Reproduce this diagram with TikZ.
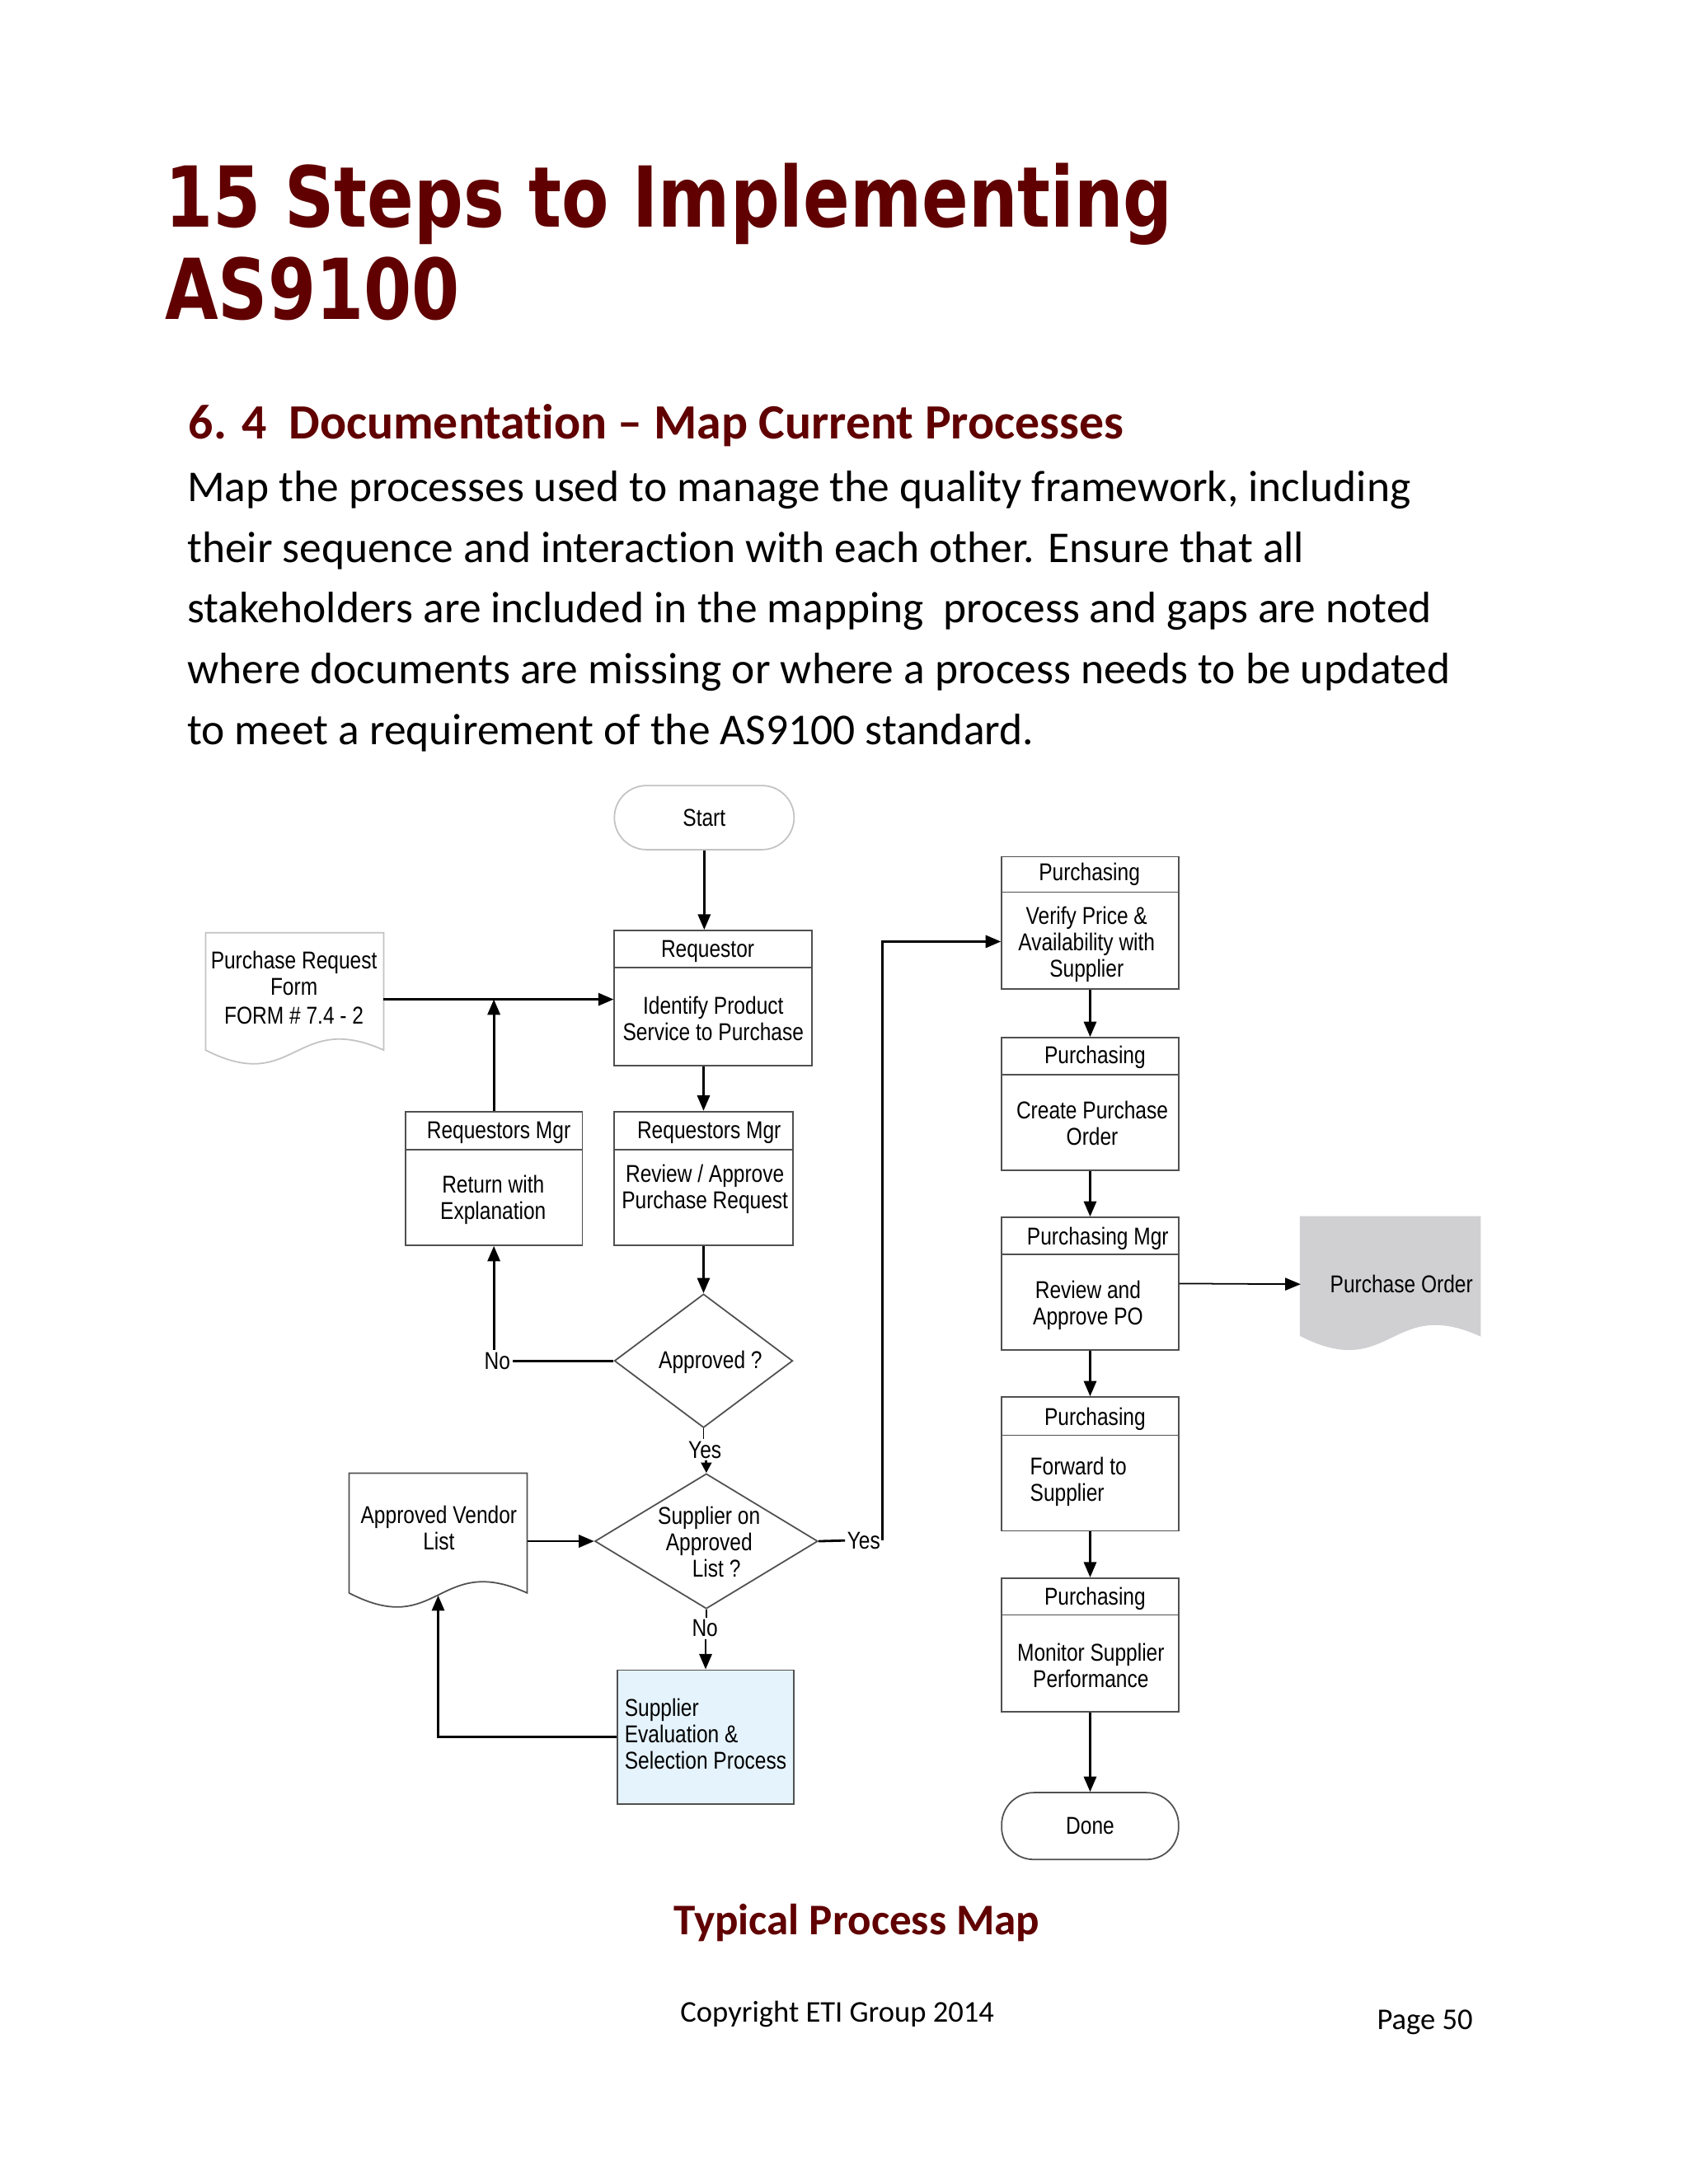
\documentclass[tikz,border=0pt]{standalone}
\usepackage{fontspec}
\setmainfont{Carlito}[Ligatures=NoCommon]
\newfontfamily\titlefont{DejaVu Sans}[FakeStretch=0.82]
\newfontfamily\fcfont{Liberation Sans}[FakeStretch=0.83]
\usetikzlibrary{arrows.meta,shapes.geometric,calc}
\newlength\upx \setlength\upx{0.016898cm}
\definecolor{titlered}{RGB}{96,0,0}
\definecolor{boxgray}{RGB}{80,80,80}
\definecolor{lightedge}{RGB}{195,195,195}
\definecolor{evalblue}{RGB}{229,243,252}
\definecolor{pogray}{RGB}{208,208,210}
\tikzset{
 fc/.style={font=\fcfont\fontsize{8.4}{9.1}\selectfont, inner sep=0pt, align=center},
 procbox/.style={draw=boxgray, line width=0.5pt, minimum width=127\upx, minimum height=95\upx, inner sep=0pt},
 term/.style={fc, draw=boxgray, line width=0.5pt, rounded corners=23\upx, minimum width=127\upx, minimum height=47\upx},
 decision/.style={diamond, draw=boxgray, line width=0.5pt, inner sep=0pt},
 docbox/.style={minimum width=127\upx, minimum height=96\upx, inner sep=0pt},
 flow/.style={line width=0.8pt, -{Triangle[length=5.3pt,width=4.3pt]}},
 shortflow/.style={line width=0.8pt, -{Triangle[length=3.6pt,width=3.6pt]}},
 plain/.style={line width=0.8pt},
 lbl/.style={fc, inner sep=0.6pt},
 para/.style={anchor=base west, inner sep=0pt, font=\fontsize{15.2}{21}\selectfont},
}
\newcommand{\docoutline}[3]{%
 \path[draw=#2, fill=#3, line width=0.5pt] let \p1=(#1.north west), \p2=(#1.south east) in
 (\x1,\y1) -- (\x2,\y1) -- (\x2,{\y1+0.88*(\y2-\y1)})
 .. controls ({0.5*(\x1+\x2)},{\y1+0.58*(\y2-\y1)}) and ({0.5*(\x1+\x2)},{\y1+1.22*(\y2-\y1)}) .. (\x1,{\y1+0.88*(\y2-\y1)}) -- cycle;}
\newcommand{\hdrline}[2]{\draw[boxgray, line width=0.5pt] ($(#1.north west)+(0,#2)$) -- ($(#1.north east)+(0,#2)$);}
\begin{document}
\begin{tikzpicture}[x=0.016898cm, y=-0.016898cm]
\fill[white] (0,0) rectangle (1212,1568);
\path[use as bounding box] (0,0) rectangle (1212,1568);

% ---------- page text ----------
\node[anchor=base west, inner sep=0pt, text=titlered, font=\titlefont\bfseries\fontsize{29}{34}\selectfont] (title1) at (118,163) {15 Steps to Implementing};
\node[anchor=base west, inner sep=0pt, text=titlered, font=\titlefont\bfseries\fontsize{29}{34}\selectfont] (title2) at (118,229) {AS9100};
\node[anchor=base west, inner sep=0pt, text=titlered, font=\bfseries\fontsize{17}{20}\selectfont] (head) at (135,315) {6. 4\ \ Documentat\kern0pt ion – Map Current Processes};
\node[para] (l1) at (134,360) {Map the processes used to manage the quality framework, including};
\node[para] (l2) at (134,403.6) {their sequence and interact\kern0pt ion with each other. Ensure that all};
\node[para] (l3) at (134,447.2) {stakeholders are included in the mapping\ \ process and gaps are noted};
\node[para] (l4) at (134,490.8) {where documents are missing or where a process needs to be updated};
\node[para] (l5) at (134,534.4) {to meet a requirement of the AS9100 standard.};
\node[anchor=base, inner sep=0pt, text=titlered, font=\bfseries\fontsize{15.1}{18}\selectfont] (cap) at (615,1389) {Typical Process Map};
\node[anchor=base west, inner sep=0pt, font=\fontsize{10.4}{12}\selectfont] (copy) at (488,1452) {Copyright ETI Group 2014};
\node[anchor=base west, inner sep=0pt, font=\fontsize{10.4}{12}\selectfont] (page) at (988,1457) {Page 50};

% ---------- left / middle column ----------
\node[term, draw=lightedge, minimum width=129\upx, minimum height=46\upx] (start) at (505.5,587) {Start};

\node[procbox, minimum width=142\upx, minimum height=97\upx] (req) at (512,716.5) {};
\hdrline{req}{27}
\node[fc] (reqH) at (508,683) {Requestor};
\node[fc] (reqB) at (512,731.5) {Identify Product\\Service to Purchase};

\node[docbox, minimum height=95\upx] (prf) at (211.5,717.5) {};
\docoutline{prf}{lightedge}{white}
\node[fc] (prfT) at (211,709) {Purchase Request\\Form\\[1pt]FORM \# 7.4 - 2};

\node[procbox, minimum height=96\upx] (rmL) at (354.5,846) {};
\hdrline{rmL}{28}
\node[fc] (rmLH) at (358,813) {Requestors Mgr};
\node[fc] (rmLB) at (354,861.5) {Return with\\Explanation};

\node[procbox, minimum width=128\upx, minimum height=96\upx] (rmR) at (505,846) {};
\hdrline{rmR}{28}
\node[fc] (rmRH) at (509,813) {Requestors Mgr};
\node[fc] (rmRB) at (506,853.5) {Review / Approve\\Purchase Request};

\node[decision, minimum width=128\upx, minimum height=96\upx] (d1) at (505,977) {};
\node[fc] (d1T) at (510,978) {Approved ?};

\node[decision, minimum width=160\upx, minimum height=97\upx] (d2) at (507,1106.5) {};
\node[fc] (d2T) at (509,1107) {Supplier on\\Approved\\\hspace*{0.6em}List ?};

\node[docbox, minimum height=97\upx] (avl) at (314.5,1106.5) {};
\docoutline{avl}{boxgray}{white}
\node[fc] (avlT) at (315,1097) {Approved Vendor\\List};

\node[procbox, fill=evalblue, minimum height=96\upx] (eval) at (506.5,1247) {};
\node[fc, align=left, anchor=west] (evalT) at (448,1245) {Supplier\\Evaluation \&\\Selection Process};

% ---------- right column ----------
\node[procbox] (p1) at (782.5,662.5) {};
\hdrline{p1}{26}
\node[fc] (p1H) at (782,628) {Purchasing};
\node[fc] (p1B) at (780,678) {Verify Price \&\\Availability with\\Supplier};

\node[procbox] (p2) at (782.5,792.5) {};
\hdrline{p2}{27}
\node[fc] (p2H) at (786,759) {Purchasing};
\node[fc] (p2B) at (784,806.5) {Create Purchase\\Order};

\node[procbox] (pm) at (782.5,921.5) {};
\hdrline{pm}{27}
\node[fc] (pmH) at (788,889) {Purchasing Mgr};
\node[fc] (pmB) at (781,937) {Review and\\Approve PO};

\node[docbox, minimum width=128\upx] (po) at (998,922) {};
\docoutline{po}{pogray}{pogray}
\node[fc] (poT) at (1006,922) {Purchase Order};

\node[procbox, minimum height=96\upx] (p3) at (782.5,1051) {};
\hdrline{p3}{28}
\node[fc] (p3H) at (786,1019) {Purchasing};
\node[fc, align=left, anchor=west] (p3B) at (739,1064) {Forward to\\Supplier};

\node[procbox, minimum height=96\upx] (p4) at (782.5,1181) {};
\hdrline{p4}{27}
\node[fc] (p4H) at (786,1148) {Purchasing};
\node[fc] (p4B) at (783,1196) {Monitor Supplier\\Performance};

\node[term, minimum height=48\upx] (done) at (782.5,1311) {Done};

% ---------- connectors ----------
\draw[flow] (start.south) -- (start.south |- req.north);
\draw[flow] (prf.east) -- (prf.east -| req.west);
\draw[flow] (rmL.north) -- (rmL.north |- prf.east);
\draw[flow] (rmR.north |- req.south) -- (rmR.north);
\draw[flow] (rmR.south) -- (d1.north);
\node[lbl] (no1) at (357,977) {No};
\draw[plain] (d1.west) -- (no1.east);
\draw[flow] (rmL.south |- no1.north) -- (rmL.south);
\node[lbl] (yes1) at (506,1041) {Yes};
\draw[line width=0.5pt] (d1.south) -- (d1.south |- yes1.north);
\draw[shortflow] (d2.north |- yes1.south) -- (d2.north);
\draw[flow] (avl.east) -- (d2.west);
\node[lbl] (yes2) at (620,1106) {Yes};
\draw[plain] (d2.east) -- (yes2.west);
\draw[flow] (yes2.east) |- ($(p1.west)+(0,13.5)$);
\node[lbl] (no2) at (506,1169) {No};
\draw[line width=0.5pt] (d2.south) -- (d2.south |- no2.north);
\draw[flow] (eval.north |- no2.south) -- (eval.north);
\draw[flow] (eval.west) -| ($(avl.south)+(0,-10)$);
\draw[flow] (p1.south) -- (p2.north);
\draw[flow] (p2.south) -- (pm.north);
\draw[flow, line width=0.5pt] (pm.east) -- (po.west);
\draw[flow] (pm.south) -- (p3.north);
\draw[flow] (p3.south) -- (p4.north);
\draw[flow] (p4.south) -- (done.north);
\end{tikzpicture}
\end{document}
